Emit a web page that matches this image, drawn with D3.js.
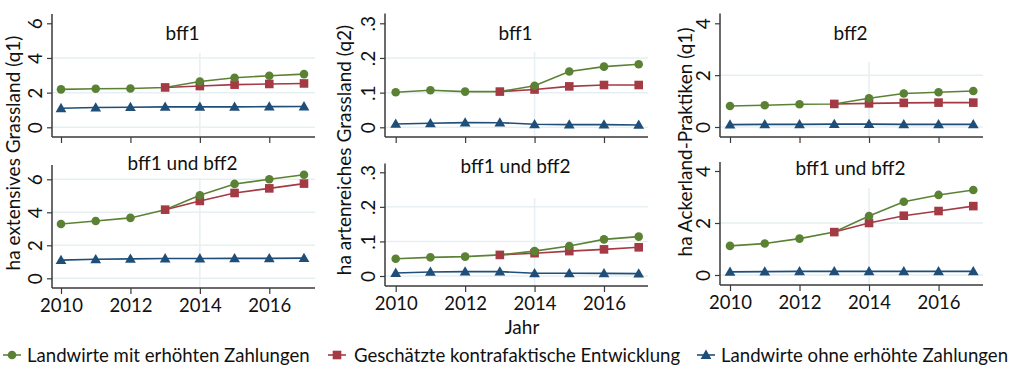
<!DOCTYPE html>
<html><head><meta charset="utf-8">
<script src="https://cdn.jsdelivr.net/npm/d3@7"></script>
<style>
html,body{margin:0;padding:0;background:#fff;}
svg{display:block;font-family:Lato,"Open Sans",sans-serif;}
</style></head>
<body><svg id="c" width="1024" height="373"></svg>
<script>
// ---- data ----
const years = [2010, 2011, 2012, 2013, 2014, 2015, 2016, 2017];
const cfYears = [2013, 2014, 2015, 2016, 2017];
const xTicks = [2010, 2012, 2014, 2016];
const seriesNames = ["Landwirte mit erhöhten Zahlungen", "Geschätzte kontrafaktische Entwicklung", "Landwirte ohne erhöhte Zahlungen"];
const panelTitles = ["bff1", "bff1 und bff2", "bff1", "bff1 und bff2", "bff2", "bff1 und bff2"];
const yTitles = ["ha extensives Grassland (q1)", "ha artenreiches Grassland (q2)", "ha Ackerland-Praktiken (q1)"];
const xTitle = "Jahr";

// extensives Grassland (q1), bff1
const q1bff1Mit = [2.19, 2.22, 2.24, 2.30, 2.64, 2.86, 2.97, 3.07];
const q1bff1Kontra = [2.30, 2.38, 2.46, 2.50, 2.53];
const q1bff1Ohne = [1.10, 1.14, 1.16, 1.18, 1.18, 1.18, 1.19, 1.20];
// extensives Grassland (q1), bff1 und bff2
const q1bothMit = [3.29, 3.47, 3.66, 4.16, 5.03, 5.72, 6.00, 6.28];
const q1bothKontra = [4.16, 4.69, 5.17, 5.45, 5.74];
const q1bothOhne = [1.10, 1.15, 1.18, 1.20, 1.20, 1.21, 1.21, 1.22];
// artenreiches Grassland (q2), bff1
const q2bff1Mit = [0.101, 0.107, 0.103, 0.103, 0.120, 0.161, 0.175, 0.182];
const q2bff1Kontra = [0.103, 0.109, 0.118, 0.122, 0.122];
const q2bff1Ohne = [0.0096, 0.0115, 0.0135, 0.0133, 0.0087, 0.0078, 0.0077, 0.0068];
// artenreiches Grassland (q2), bff1 und bff2
const q2bothMit = [0.050, 0.054, 0.056, 0.061, 0.072, 0.087, 0.106, 0.114];
const q2bothKontra = [0.061, 0.066, 0.072, 0.077, 0.083];
const q2bothOhne = [0.0087, 0.0117, 0.0126, 0.0126, 0.0078, 0.0078, 0.0077, 0.0070];
// Ackerland-Praktiken (q1), bff2
const akbff2Mit = [0.81, 0.84, 0.88, 0.89, 1.11, 1.29, 1.34, 1.39];
const akbff2Kontra = [0.89, 0.91, 0.93, 0.94, 0.94];
const akbff2Ohne = [0.09, 0.10, 0.10, 0.11, 0.11, 0.10, 0.10, 0.10];
// Ackerland-Praktiken (q1), bff1 und bff2
const akbothMit = [1.12, 1.21, 1.40, 1.65, 2.27, 2.82, 3.08, 3.27];
const akbothKontra = [1.65, 2.00, 2.28, 2.46, 2.65];
const akbothOhne = [0.12, 0.13, 0.14, 0.14, 0.14, 0.14, 0.14, 0.14];

const yTicksQ1 = [0, 2, 4, 6];
const yTicksQ2 = [0, 0.1, 0.2, 0.3];
const yTicksAk = [0, 2, 4];

// ---- style / layout ----
const colors = ["#5b8234", "#a33a44", "#1f4e79"];
const gridColor = "#e6eff1";
const axisColor = "#3a3a3a";
const fmtQ2 = v => v === 0 ? "0" : d3.format(".1f")(v).replace(/^0/, "");

const panels = [
  {title: panelTitles[0], mit: q1bff1Mit, kon: q1bff1Kontra, ohne: q1bff1Ohne, ticks: yTicksQ1, fmt: d3.format("d"),
   ax: 52, right: 315, x0: 61, x1: 304, yTop: 14, yBot: 137, y0: 127.3, yMax: 23.3, boxBot: 53, tY: 33, labels: false},
  {title: panelTitles[1], mit: q1bothMit, kon: q1bothKontra, ohne: q1bothOhne, ticks: yTicksQ1, fmt: d3.format("d"),
   ax: 52, right: 315, x0: 61, x1: 304, yTop: 165, yBot: 288, y0: 278.3, yMax: 179.3, boxBot: 178, tY: 163, labels: true},
  {title: panelTitles[2], mit: q2bff1Mit, kon: q2bff1Kontra, ohne: q2bff1Ohne, ticks: yTicksQ2, fmt: fmtQ2,
   ax: 385, right: 648, x0: 395.7, x1: 638.7, yTop: 13.5, yBot: 137, y0: 127.3, yMax: 23.3, boxBot: 52, tY: 33, labels: false},
  {title: panelTitles[3], mit: q2bothMit, kon: q2bothKontra, ohne: q2bothOhne, ticks: yTicksQ2, fmt: fmtQ2,
   ax: 385, right: 648, x0: 395.7, x1: 638.7, yTop: 163.5, yBot: 286, y0: 276, yMax: 172.3, boxBot: 198, tY: 166, labels: true},
  {title: panelTitles[4], mit: akbff2Mit, kon: akbff2Kontra, ohne: akbff2Ohne, ticks: yTicksAk, fmt: d3.format("d"),
   ax: 720, right: 983, x0: 730, x1: 973.3, yTop: 13.5, yBot: 137, y0: 127, yMax: 23.3, boxBot: 62, tY: 33, labels: false},
  {title: panelTitles[5], mit: akbothMit, kon: akbothKontra, ohne: akbothOhne, ticks: yTicksAk, fmt: d3.format("d"),
   ax: 720, right: 983, x0: 730, x1: 973.3, yTop: 162, yBot: 285, y0: 275, yMax: 171, boxBot: 188, tY: 168, labels: true}
];

const svg = d3.select("#c");

function marker(g, type, x, y, color) {
  if (type === 0) g.append("circle").attr("cx", x).attr("cy", y).attr("r", 4.3).attr("fill", color);
  else if (type === 1) g.append("rect").attr("x", x - 4.3).attr("y", y - 4.3).attr("width", 8.6).attr("height", 8.6).attr("fill", color);
  else g.append("path").attr("d", d3.symbol(d3.symbolTriangle, 50)()).attr("transform", `translate(${x},${y + 0.8})`).attr("fill", color);
}

panels.forEach(p => {
  const g = svg.append("g");
  const x = d3.scaleLinear().domain([2010, 2017]).range([p.x0, p.x1]);
  const maxT = p.ticks[p.ticks.length - 1];
  const y = d3.scaleLinear().domain([0, maxT]).range([p.y0, p.yMax]);

  // gridlines
  g.selectAll(".grid").data(p.ticks).enter().append("line")
    .attr("x1", p.ax).attr("x2", p.right).attr("y1", d => y(d)).attr("y2", d => y(d))
    .attr("stroke", gridColor).attr("stroke-width", 1.5);
  g.append("line").attr("x1", x(2014)).attr("x2", x(2014)).attr("y1", p.yTop).attr("y2", p.yBot)
    .attr("stroke", gridColor).attr("stroke-width", 1.5);
  // title box
  g.append("rect").attr("x", p.ax + 1).attr("y", p.yTop - 2).attr("width", p.right - p.ax).attr("height", p.boxBot - p.yTop + 2).attr("fill", "#fff");
  g.append("text").attr("x", (p.ax + p.right) / 2 - 1).attr("y", p.tY).attr("dy", "0.35em")
    .attr("text-anchor", "middle").attr("font-size", 19).attr("fill", "#111").text(p.title);

  // y axis
  const ya = d3.axisLeft(y).tickValues(p.ticks).tickFormat(p.fmt).tickSize(5).tickPadding(6);
  const yg = g.append("g").attr("transform", `translate(${p.ax},0)`).call(ya);
  yg.select(".domain").remove();
  yg.selectAll(".tick line").attr("stroke", axisColor).attr("stroke-width", 1.2);
  yg.selectAll(".tick text").attr("font-size", 19).attr("fill", "#111").attr("font-family", "Lato")
    .attr("x", 0).attr("y", 0).attr("dy", "0.35em").attr("text-anchor", "middle")
    .attr("transform", "translate(-17,0) rotate(-90)");
  g.append("line").attr("x1", p.ax).attr("x2", p.ax).attr("y1", p.yTop).attr("y2", p.yBot).attr("stroke", axisColor).attr("stroke-width", 1.5);

  // x axis
  const xa = d3.axisBottom(x).tickValues(xTicks).tickFormat(p.labels ? d3.format("d") : () => "").tickSize(6).tickPadding(5);
  const xg = g.append("g").attr("transform", `translate(0,${p.yBot})`).call(xa);
  xg.select(".domain").remove();
  xg.selectAll(".tick line").attr("stroke", axisColor).attr("stroke-width", 1.2);
  xg.selectAll(".tick text").attr("font-size", 18.5).attr("fill", "#111").attr("font-family", "Lato");
  g.append("line").attr("x1", p.ax).attr("x2", p.right).attr("y1", p.yBot).attr("y2", p.yBot).attr("stroke", axisColor).attr("stroke-width", 1.5);

  // series
  const line = d3.line().x(d => x(d[0])).y(d => y(d[1]));
  const sets = [
    {yrs: cfYears, vals: p.kon, c: colors[1], m: 1},
    {yrs: years, vals: p.ohne, c: colors[2], m: 2},
    {yrs: years, vals: p.mit, c: colors[0], m: 0}
  ];
  [sets[1], sets[0], sets[2]].forEach(s => {
    const pts = s.yrs.map((yr, i) => [yr, s.vals[i]]);
    g.append("path").attr("d", line(pts)).attr("fill", "none").attr("stroke", s.c).attr("stroke-width", 1.6);
  });
  [sets[1], sets[0]].forEach(s => {
    s.yrs.forEach((yr, i) => marker(g, s.m, x(yr), y(s.vals[i]), s.c));
  });
  sets[2].yrs.forEach((yr, i) => { if (yr !== 2013) marker(g, 0, x(yr), y(sets[2].vals[i]), sets[2].c); });
});

// y titles
const yTitlePos = [[13, 153], [344, 150], [685, 142]];
yTitles.forEach((t, i) => {
  svg.append("text").attr("transform", `translate(${yTitlePos[i][0]},${yTitlePos[i][1]}) rotate(-90)`)
    .attr("text-anchor", "middle").attr("dy", "0.35em").attr("font-size", 19).attr("fill", "#111").text(t);
});
// x title
svg.append("text").attr("x", 522).attr("y", 327).attr("dy", "0.35em").attr("text-anchor", "middle")
  .attr("font-size", 19).attr("fill", "#111").text(xTitle);

// legend
const legX = [[3, 27], [328, 354], [697, 721]];
const legY = 355;
seriesNames.forEach((n, i) => {
  const g = svg.append("g");
  g.append("line").attr("x1", legX[i][0]).attr("x2", legX[i][0] + 18).attr("y1", legY).attr("y2", legY)
    .attr("stroke", colors[i]).attr("stroke-width", 1.6);
  marker(g, i, legX[i][0] + 9, legY, colors[i]);
  g.append("text").attr("x", legX[i][1]).attr("y", legY).attr("dy", "0.35em").attr("font-size", 18.6)
    .attr("fill", "#111").text(n);
});
</script></body></html>
